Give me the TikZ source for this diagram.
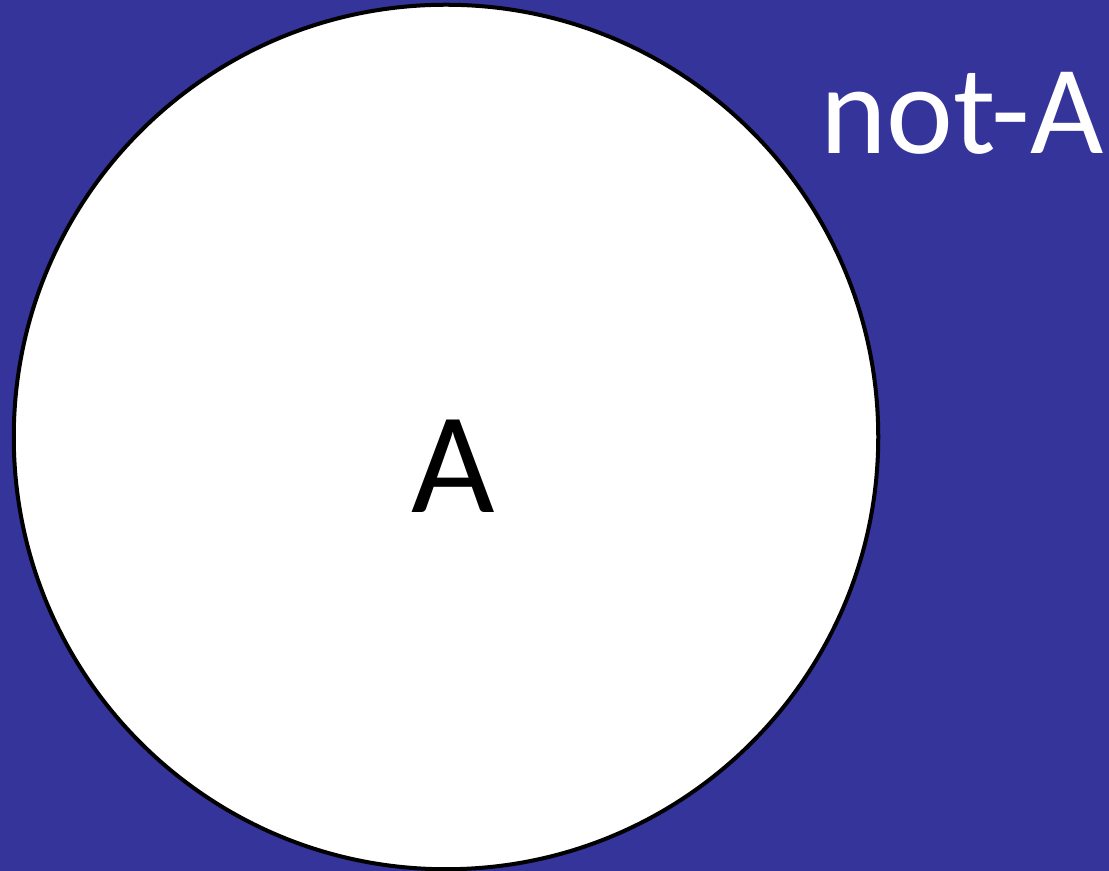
\documentclass[tikz,border=0pt]{standalone}
\usepackage{fontspec}
\setmainfont{Carlito}
\definecolor{bgblue}{RGB}{53,52,154}
\begin{document}
\begin{tikzpicture}[x=0.01cm,y=-0.01cm,
  setcircle/.style={circle,draw=black,fill=white,line width=0.04cm,minimum size=8.64cm,inner sep=0pt},
  biglabel/.style={font=\fontsize{41}{41}\selectfont,text=black,anchor=base},
  outlabel/.style={font=\fontsize{36}{36}\selectfont,text=white,anchor=base}]
\fill[bgblue] (0,0) rectangle (1109,871);
\useasboundingbox (0,0) rectangle (1109,871);
\node[setcircle] (setA) at (446,437) {};
\node[biglabel] (labA) at (453,513) {A};
\node[outlabel] (labnotA) at (962,154) {not-A};
\end{tikzpicture}
\end{document}
